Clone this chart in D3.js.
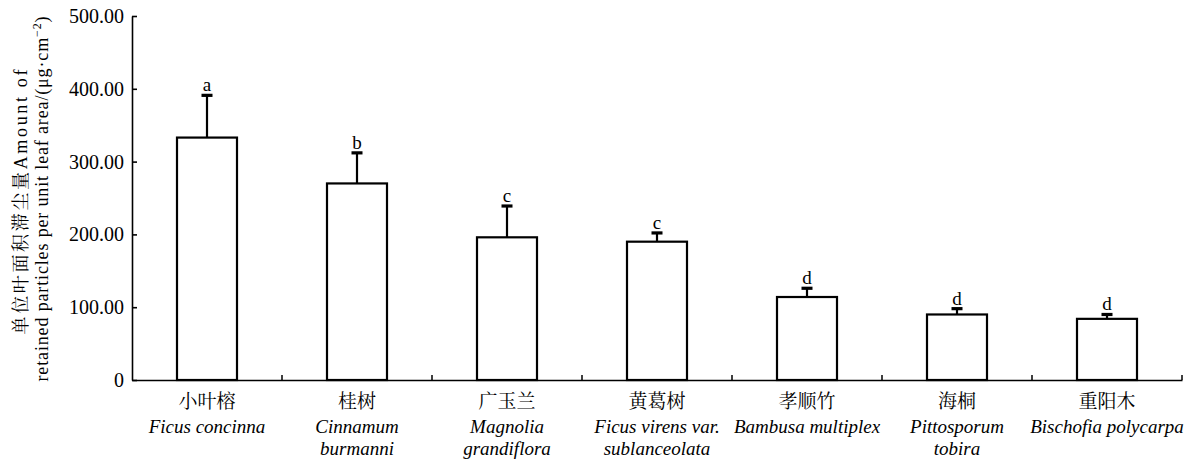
<!DOCTYPE html>
<html>
<head>
<meta charset="utf-8">
<script src="https://cdn.jsdelivr.net/npm/d3@7"></script>
<style>
  body { margin: 0; background: #fff; }
  svg { display: block; }
  text { fill: #000; }
</style>
</head>
<body>
<svg id="chart" width="1198" height="459"></svg>
<script>
// species, Chinese names and latin names (two lines where wrapped)
const cnNames = ["小叶榕", "桂树", "广玉兰", "黄葛树", "孝顺竹", "海桐", "重阳木"];
const latinNames = [
  ["Ficus concinna"],
  ["Cinnamum", "burmanni"],
  ["Magnolia", "grandiflora"],
  ["Ficus virens var.", "sublanceolata"],
  ["Bambusa multiplex"],
  ["Pittosporum", "tobira"],
  ["Bischofia polycarpa"]
];
const means = [333, 270, 196, 190, 114, 90, 84];
const errors = [58, 42, 43, 12, 12, 8, 6];
const letters = ["a", "b", "c", "c", "d", "d", "d"];
const yTicks = [0, 100, 200, 300, 400, 500];

const data = cnNames.map((c, i) => ({
  cn: c, latin: latinNames[i], v: means[i], e: errors[i], l: letters[i]
}));

const svg = d3.select("#chart");
const serif = "Liberation Serif";
const cjk = "Noto Serif CJK SC";

const x = d3.scaleBand()
  .domain(cnNames)
  .range([132, 1182])
  .paddingInner(0.6)
  .paddingOuter(0.3);

const y = d3.scaleLinear()
  .domain([0, 500])
  .range([380, 16]);

// y axis, ticks pointing inward
const yAxis = svg.append("g")
  .attr("transform", "translate(132,0)")
  .call(d3.axisLeft(y)
    .tickValues(yTicks)
    .tickSize(-5)
    .tickSizeOuter(0)
    .tickPadding(8)
    .tickFormat(d => d === 0 ? "0" : d3.format(".2f")(d)));
yAxis.attr("font-family", null).attr("font-size", null);
yAxis.select(".domain").attr("stroke-width", 1.6);
yAxis.selectAll(".tick line").attr("stroke-width", 1.6);
yAxis.selectAll(".tick text")
  .style("font-family", serif)
  .style("font-size", "20px")
  .attr("fill", "#000");

// x axis line
const xAxis = svg.append("g")
  .attr("transform", "translate(0,380)")
  .call(d3.axisBottom(x).tickSize(0).tickFormat(""));
xAxis.select(".domain").attr("stroke-width", 1.6);

// boundary ticks pointing up
const step = x.step();
svg.append("g").selectAll("line")
  .data(cnNames)
  .enter()
  .append("line")
  .attr("x1", d => x(d) - x.paddingOuter() * step + step)
  .attr("x2", d => x(d) - x.paddingOuter() * step + step)
  .attr("y1", 380)
  .attr("y2", 375)
  .attr("stroke", "#000")
  .attr("stroke-width", 1.5);

// bars
svg.append("g").selectAll("rect")
  .data(data)
  .enter()
  .append("rect")
  .attr("x", d => x(d.cn))
  .attr("y", d => y(d.v))
  .attr("width", x.bandwidth())
  .attr("height", d => y(0) - y(d.v))
  .attr("fill", "#fff")
  .attr("stroke", "#000")
  .attr("stroke-width", 2.2);

// error bars
const eb = svg.append("g").selectAll("g")
  .data(data)
  .enter()
  .append("g")
  .attr("transform", d => `translate(${x(d.cn) + x.bandwidth() / 2},0)`);

eb.append("line")
  .attr("y1", d => y(d.v))
  .attr("y2", d => y(d.v + d.e))
  .attr("stroke", "#000")
  .attr("stroke-width", 2.2);

eb.append("line")
  .attr("x1", -5.5)
  .attr("x2", 5.5)
  .attr("y1", d => y(d.v + d.e))
  .attr("y2", d => y(d.v + d.e))
  .attr("stroke", "#000")
  .attr("stroke-width", 3.2);

eb.append("text")
  .attr("y", d => y(d.v + d.e) - 4)
  .attr("text-anchor", "middle")
  .style("font-family", serif)
  .style("font-size", "19px")
  .text(d => d.l);

// category labels
const lab = svg.append("g").selectAll("g")
  .data(data)
  .enter()
  .append("g")
  .attr("transform", d => `translate(${x(d.cn) + x.bandwidth() / 2},0)`)
  .attr("text-anchor", "middle");

lab.append("text")
  .attr("y", 408)
  .style("font-family", cjk)
  .style("font-size", "19px")
  .text(d => d.cn);

lab.each(function(d) {
  d3.select(this).selectAll(".lat")
    .data(d.latin)
    .enter()
    .append("text")
    .attr("class", "lat")
    .attr("y", (t, i) => 433 + i * 22)
    .style("font-family", serif)
    .style("font-style", "italic")
    .style("font-size", "19px")
    .text(t => t);
});

// y axis title, two rotated lines
const t1 = svg.append("text")
  .attr("transform", "translate(27,202) rotate(-90)")
  .attr("text-anchor", "middle")
  .style("font-family", serif)
  .style("font-size", "18px")
  .attr("textLength", 265)
  .attr("lengthAdjust", "spacing");
t1.append("tspan").style("font-family", cjk).text("单位叶面积滞尘量");
t1.append("tspan").style("font-family", serif).text("Amount of");

const t2 = svg.append("text")
  .attr("transform", "translate(48,199) rotate(-90)")
  .attr("text-anchor", "middle")
  .style("font-family", serif)
  .style("font-size", "18px")
  .attr("textLength", 365)
  .attr("lengthAdjust", "spacing");
t2.append("tspan").style("font-family", serif).text("retained particles per unit leaf area/(μg·cm");
t2.append("tspan").attr("dy", -7).style("font-family", serif).style("font-size", "12px").text("−2");
t2.append("tspan").attr("dy", 7).style("font-family", serif).text(")");
</script>
</body>
</html>
